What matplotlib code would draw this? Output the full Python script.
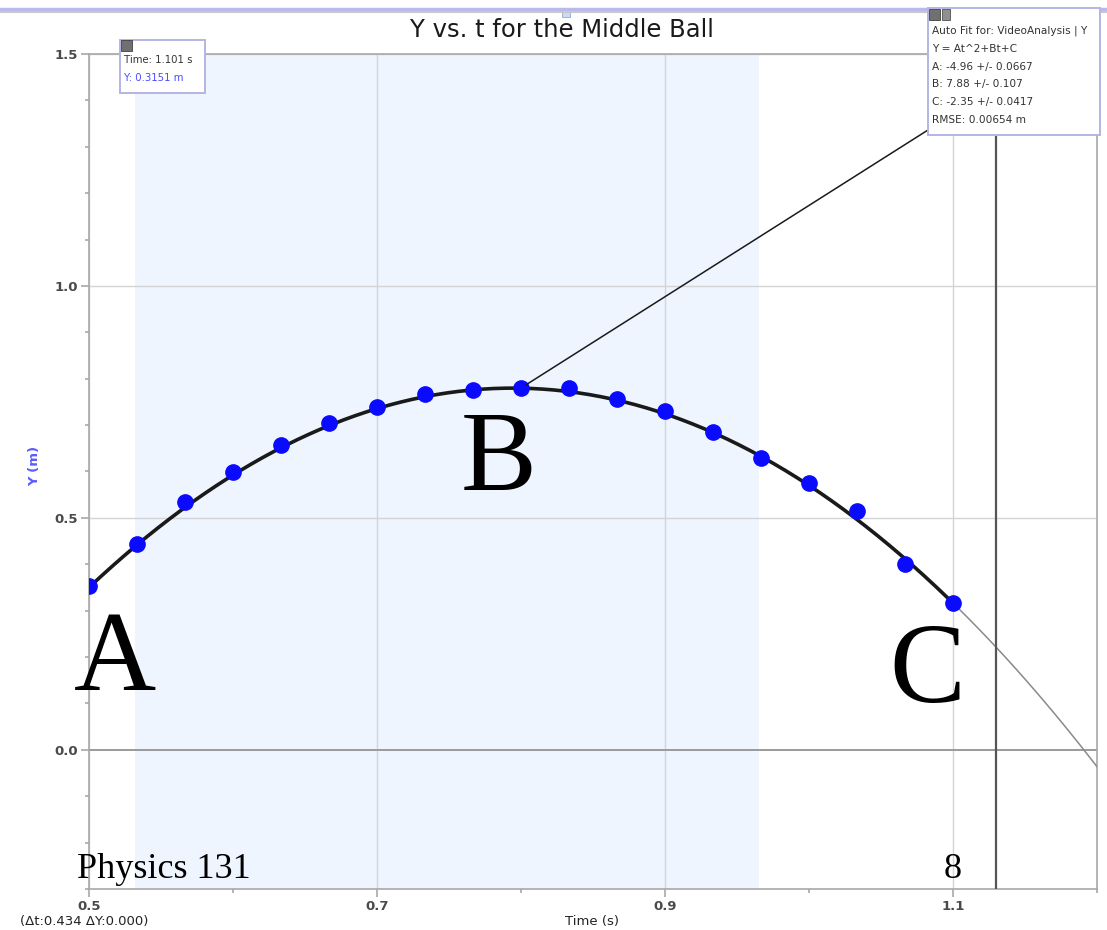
import numpy as np
import matplotlib
matplotlib.use("Agg")
import matplotlib.pyplot as plt
from matplotlib.patches import Rectangle
from matplotlib.ticker import MultipleLocator, FixedLocator

# ---- data ----
time_s = [0.500, 0.533, 0.567, 0.600, 0.633, 0.667, 0.700, 0.733, 0.767, 0.800,
          0.833, 0.867, 0.900, 0.933, 0.967, 1.000, 1.033, 1.067, 1.100]
y_m = [0.353, 0.444, 0.534, 0.599, 0.657, 0.705, 0.739, 0.767, 0.776, 0.780,
       0.780, 0.756, 0.731, 0.685, 0.629, 0.575, 0.515, 0.401, 0.317]
fit_A, fit_B, fit_C = -4.96, 7.88, -2.35
sel_start, sel_end = 0.532, 0.965
cursor_t = 1.130
x_ticks = [0.5, 0.7, 0.9, 1.1]
y_ticks = [0.0, 0.5, 1.0, 1.5]
fit_lines = ["Auto Fit for: VideoAnalysis | Y", "Y = At^2+Bt+C",
             "A: -4.96 +/- 0.0667", "B: 7.88 +/- 0.107",
             "C: -2.35 +/- 0.0417", "RMSE: 0.00654 m"]

W, H = 1107, 930
fig = plt.figure(figsize=(W / 100, H / 100), dpi=100)
def fx(px): return px / W
def fy(py): return 1 - py / H

ax = fig.add_axes([fx(89), fy(889), fx(1097) - fx(89), fy(54) - fy(889)])
ax.set_xlim(0.5, 1.2)
ax.set_ylim(-0.30, 1.5)

ax.axvspan(sel_start, sel_end, color="#eef5fe", zorder=0, lw=0)
for xt in x_ticks:
    ax.axvline(xt, color="#d4d4d4", lw=1, zorder=1)
for yt in y_ticks:
    ax.axhline(yt, color="#d4d4d4" if yt != 0 else "#9a9a9a", lw=1 if yt != 0 else 1.4, zorder=1)

# fit curve
tc1 = np.linspace(0.5, 1.1, 300)
tc2 = np.linspace(1.1, 1.2, 60)
ax.plot(tc1, fit_A * tc1**2 + fit_B * tc1 + fit_C, color="#1a1a1a", lw=2.6, zorder=3)
ax.plot(tc2, fit_A * tc2**2 + fit_B * tc2 + fit_C, color="#8a8a8a", lw=1.1, zorder=3)

ax.plot(time_s, y_m, "o", color="#0a0aff", ms=11, mec="#0a0aff", zorder=4)

ax.axvline(cursor_t, color="#555555", lw=1.6, zorder=3)

for s in ax.spines.values():
    s.set_color("#a8a8a8")
    s.set_linewidth(1.2)

ax.xaxis.set_major_locator(FixedLocator(x_ticks))
ax.xaxis.set_minor_locator(MultipleLocator(0.1))
ax.yaxis.set_major_locator(FixedLocator(y_ticks))
ax.yaxis.set_minor_locator(MultipleLocator(0.1))
ax.set_xticklabels([f"{v:.1f}" for v in x_ticks])
ax.set_yticklabels([f"{v:.1f}" for v in y_ticks])
ax.tick_params(which="major", length=6, color="#a8a8a8", width=1.2, pad=2,
               labelsize=9.5, labelcolor="#4a4a4a")
ax.tick_params(which="minor", length=3, color="#a8a8a8", width=1.2)
for lab in ax.get_xticklabels() + ax.get_yticklabels():
    lab.set_fontweight("bold")

# leader line to fit box
ax.annotate("", xy=(time_s[9], y_m[9]), xycoords="data",
            xytext=(928, H - 130), textcoords="figure pixels",
            arrowprops=dict(arrowstyle="-", color="#1a1a1a", lw=1.1,
                            shrinkA=0, shrinkB=4), zorder=6)

# big serif letters
serif = "Liberation Serif"
fig.text(fx(74), fy(690), "A", fontsize=82, family=serif, color="black", va="baseline")
fig.text(fx(461), fy(490), "B", fontsize=82, family=serif, color="black", va="baseline")
fig.text(fx(889), fy(702), "C", fontsize=82, family=serif, color="black", va="baseline")
fig.text(fx(77), fy(878), "Physics 131", fontsize=26, family=serif, color="black", va="baseline")
fig.text(fx(944), fy(878), "8", fontsize=26, family=serif, color="black", va="baseline")

# title
fig.text(fx(562), fy(30), "Y vs. t for the Middle Ball", fontsize=17.5, ha="center",
         va="center", color="#1a1a1a")

# y label
fig.text(fx(35), fy(466), "Y (m)", fontsize=9.5, rotation=90, ha="center", va="center",
         color="#5a5aff", fontweight="bold")

# bottom texts (kept fully inside the figure)
fig.text(fx(20), fy(928), "(\u0394t:0.434 \u0394Y:0.000)", fontsize=9.5, va="bottom", color="#222222")
fig.text(fx(592), fy(928), "Time (s)", fontsize=9.5, va="bottom", ha="center", color="#222222")

# top window lines
fig.add_artist(plt.Line2D([0, 1], [fy(9), fy(9)], color="#b9b9ee", lw=2.5))
fig.add_artist(plt.Line2D([0, 1], [fy(12), fy(12)], color="#c8c8c8", lw=1.5))
fig.add_artist(Rectangle((fx(562), fy(17)), fx(8), fy(9) - fy(17), facecolor="#c9dbf5",
                         edgecolor="#8fa8d8", lw=0.6))

# time readout box
fig.add_artist(Rectangle((fx(120), fy(93)), fx(85), fy(40) - fy(93), facecolor="white",
                         edgecolor="#b4b4e6", lw=1.4, zorder=10))
fig.add_artist(Rectangle((fx(121), fy(51)), fx(11), fy(40) - fy(51), facecolor="#707070",
                         edgecolor="#404040", lw=0.6, zorder=11))
fig.text(fx(124), fy(60), "Time: 1.101 s", fontsize=7.3, va="center", color="#333333", zorder=12)
fig.text(fx(124), fy(78), "Y: 0.3151 m", fontsize=7.3, va="center", color="#4a4aff", zorder=12)

# fit box
fig.add_artist(Rectangle((fx(928), fy(135)), fx(172), fy(8) - fy(135), facecolor="white",
                         edgecolor="#b4b4e6", lw=1.4, zorder=10))
fig.add_artist(Rectangle((fx(929), fy(20)), fx(11), fy(9) - fy(20), facecolor="#707070",
                         edgecolor="#404040", lw=0.6, zorder=11))
fig.add_artist(Rectangle((fx(942), fy(20)), fx(8), fy(9) - fy(20), facecolor="#909090",
                         edgecolor="#505050", lw=0.6, zorder=11))
for i, line in enumerate(fit_lines):
    fig.text(fx(932), fy(31 + i * 17.8), line, fontsize=7.6, va="center",
             color="#333333", zorder=12)

fig.savefig("out.png", dpi=100)
